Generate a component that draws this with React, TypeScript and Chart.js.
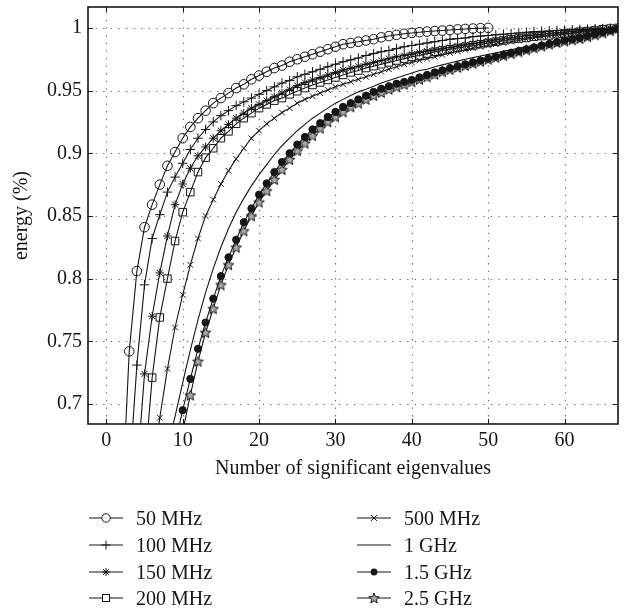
import React, { useEffect, useRef } from 'react';
import { Chart, registerables } from 'chart.js';

Chart.register(...registerables);

const FONT = '"Liberation Serif", "Times New Roman", serif';
const INK = '#161616';

// Axes
const xTicks = [0, 10, 20, 30, 40, 50, 60];
const yTicks = [0.7, 0.75, 0.8, 0.85, 0.9, 0.95, 1];
const yTickLabels = ['0.7', '0.75', '0.8', '0.85', '0.9', '0.95', '1'];
const xMin = -2.4;
const xMax = 67;
const yMin = 0.684;
const yMax = 1.0167;
const xTitle = 'Number of significant eigenvalues';
const yTitle = 'energy (%)';

// Series (first index = number of eigenvalues of the first value)
const seriesLabels = ['50 MHz', '100 MHz', '150 MHz', '200 MHz', '500 MHz', '1 GHz', '1.5 GHz', '2.5 GHz'];
const seriesStarts = [2, 3, 4, 5, 6, 8, 9, 10];

const e50MHz = [
  0.613, 0.742, 0.806, 0.841, 0.859, 0.875, 0.89, 0.901, 0.912, 0.921,
  0.928, 0.934, 0.94, 0.944, 0.948, 0.952, 0.955, 0.959, 0.962, 0.965,
  0.968, 0.97, 0.973, 0.975, 0.977, 0.979, 0.981, 0.983, 0.985, 0.987,
  0.988, 0.989, 0.99, 0.991, 0.9925, 0.9935, 0.9945, 0.9953, 0.996, 0.9966,
  0.9971, 0.9975, 0.9979, 0.9983, 0.9988, 0.9992, 0.9995, 0.9998, 1.0,
];
const e100MHz = [
  0.642, 0.731, 0.795, 0.832, 0.851, 0.869, 0.881, 0.892, 0.903, 0.912,
  0.919, 0.925, 0.93, 0.934, 0.938, 0.941, 0.944, 0.947, 0.95, 0.953,
  0.956, 0.958, 0.961, 0.963, 0.965, 0.967, 0.969, 0.971, 0.973, 0.9745,
  0.976, 0.978, 0.9795, 0.981, 0.982, 0.9835, 0.985, 0.986, 0.987, 0.988,
  0.989, 0.99, 0.991, 0.9915, 0.992, 0.993, 0.9935, 0.994, 0.9945, 0.995,
  0.9955, 0.996, 0.9965, 0.997, 0.9973, 0.9976, 0.9979, 0.9982, 0.9985, 0.9988,
  0.999, 0.9993, 0.9995, 0.9998, 1.0,
];
const e150MHz = [
  0.644, 0.724, 0.77, 0.8045, 0.834, 0.859, 0.8755, 0.888, 0.898, 0.905,
  0.912, 0.918, 0.923, 0.928, 0.932, 0.936, 0.939, 0.942, 0.945, 0.948,
  0.951, 0.954, 0.9565, 0.9585, 0.9605, 0.9625, 0.9645, 0.9665, 0.968, 0.9695,
  0.971, 0.9725, 0.974, 0.9755, 0.977, 0.978, 0.979, 0.9805, 0.9815, 0.9825,
  0.9835, 0.9845, 0.9855, 0.9865, 0.9875, 0.9885, 0.9895, 0.9905, 0.9915, 0.9922,
  0.993, 0.9937, 0.9943, 0.995, 0.9956, 0.9962, 0.9967, 0.9972, 0.9977, 0.9982,
  0.9987, 0.9992, 0.9996, 1.0,
];
const e200MHz = [
  0.647, 0.721, 0.769, 0.8, 0.83, 0.853, 0.869, 0.885, 0.8965, 0.904,
  0.912, 0.9175, 0.9235, 0.928, 0.932, 0.936, 0.939, 0.942, 0.944, 0.947,
  0.9495, 0.952, 0.9545, 0.9565, 0.9585, 0.9605, 0.9625, 0.9645, 0.966, 0.968,
  0.9695, 0.971, 0.9725, 0.974, 0.9755, 0.977, 0.978, 0.9795, 0.981, 0.982,
  0.983, 0.984, 0.985, 0.986, 0.987, 0.988, 0.989, 0.99, 0.991, 0.9915,
  0.992, 0.993, 0.9935, 0.994, 0.995, 0.9955, 0.996, 0.997, 0.9975, 0.998,
  0.999, 0.9995, 1.0,
];
const e500MHz = [
  0.64, 0.689, 0.728, 0.761, 0.787, 0.811, 0.832, 0.85, 0.863, 0.8755,
  0.886, 0.8955, 0.904, 0.912, 0.918, 0.9235, 0.928, 0.9325, 0.936, 0.94,
  0.943, 0.9455, 0.948, 0.9505, 0.953, 0.955, 0.957, 0.959, 0.961, 0.963,
  0.965, 0.967, 0.969, 0.971, 0.9725, 0.974, 0.9755, 0.977, 0.9785, 0.98,
  0.9813, 0.9825, 0.9838, 0.985, 0.986, 0.987, 0.988, 0.989, 0.99, 0.991,
  0.992, 0.9928, 0.9936, 0.9944, 0.995, 0.9958, 0.9965, 0.9972, 0.998, 0.9987,
  0.9994, 1.0,
];
const e1GHz = [
  0.665, 0.69, 0.717, 0.743, 0.767, 0.789, 0.808, 0.825, 0.84, 0.853,
  0.864, 0.874, 0.883, 0.891, 0.899, 0.906, 0.912, 0.918, 0.923, 0.928,
  0.932, 0.936, 0.94, 0.943, 0.946, 0.949, 0.951, 0.9535, 0.956, 0.958,
  0.96, 0.962, 0.964, 0.966, 0.967, 0.969, 0.9705, 0.972, 0.9735, 0.975,
  0.9763, 0.9776, 0.9789, 0.98, 0.9815, 0.9825, 0.984, 0.985, 0.986, 0.987,
  0.988, 0.989, 0.991, 0.992, 0.993, 0.994, 0.9955, 0.997, 0.9985, 1.0,
];
const e1p5GHz = [
  0.668, 0.695, 0.72, 0.744, 0.765, 0.784, 0.802, 0.817, 0.831, 0.845,
  0.856, 0.867, 0.876, 0.885, 0.893, 0.9, 0.907, 0.913, 0.919, 0.924,
  0.929, 0.933, 0.937, 0.94, 0.943, 0.946, 0.949, 0.9515, 0.9535, 0.9555,
  0.957, 0.9585, 0.9605, 0.9625, 0.9645, 0.9662, 0.968, 0.9695, 0.971, 0.9725,
  0.974, 0.9755, 0.977, 0.9785, 0.98, 0.9815, 0.983, 0.9845, 0.986, 0.9873,
  0.9886, 0.99, 0.991, 0.992, 0.9935, 0.995, 0.9965, 0.998, 0.9995,
];
const e2p5GHz = [
  0.678, 0.707, 0.734, 0.757, 0.776, 0.795, 0.811, 0.825, 0.838, 0.85,
  0.861, 0.87, 0.879, 0.887, 0.895, 0.902, 0.908, 0.914, 0.92, 0.925,
  0.929, 0.933, 0.937, 0.94, 0.943, 0.946, 0.9485, 0.951, 0.953, 0.955,
  0.957, 0.959, 0.961, 0.963, 0.965, 0.9668, 0.9685, 0.97, 0.9717, 0.9733,
  0.975, 0.9765, 0.978, 0.9795, 0.981, 0.9825, 0.984, 0.9855, 0.987, 0.9883,
  0.9895, 0.9905, 0.9915, 0.993, 0.9945, 0.996, 0.9978, 0.9995,
];
const seriesValues = [e50MHz, e100MHz, e150MHz, e200MHz, e500MHz, e1GHz, e1p5GHz, e2p5GHz];

// Marker styles
const markerKinds = ['circle', 'cross', 'star', 'rect', 'crossRot', 'none', 'dot', 'star5'];

function makeStarImage(size: number) {
  const c = document.createElement('canvas');
  c.width = size;
  c.height = size;
  const g = c.getContext('2d') as CanvasRenderingContext2D;
  const cx = size / 2, cy = size / 2 + 0.5;
  const R = size / 2 - 1, r = R * 0.45;
  g.beginPath();
  for (let i = 0; i < 10; i++) {
    const a = -Math.PI / 2 + (i * Math.PI) / 5;
    const rad = i % 2 === 0 ? R : r;
    g.lineTo(cx + rad * Math.cos(a), cy + rad * Math.sin(a));
  }
  g.closePath();
  g.fillStyle = '#a8a8a8';
  g.fill();
  g.lineWidth = 1;
  g.strokeStyle = INK;
  g.stroke();
  return c;
}

function pointOpts(kind: string, star: HTMLCanvasElement) {
  switch (kind) {
    case 'circle': return { pointStyle: 'circle', pointRadius: 4.8, pointBackgroundColor: 'rgba(0,0,0,0)' };
    case 'cross': return { pointStyle: 'cross', pointRadius: 4.8, pointBackgroundColor: INK };
    case 'star': return { pointStyle: 'star', pointRadius: 4.3, pointBackgroundColor: INK };
    case 'rect': return { pointStyle: 'rect', pointRadius: 5.3, pointBackgroundColor: 'rgba(0,0,0,0)' };
    case 'crossRot': return { pointStyle: 'crossRot', pointRadius: 4, pointBackgroundColor: INK };
    case 'dot': return { pointStyle: 'circle', pointRadius: 3.6, pointBackgroundColor: INK };
    case 'star5': return { pointStyle: star, pointRadius: 5, pointBackgroundColor: INK };
    default: return { pointStyle: 'circle', pointRadius: 0 };
  }
}

const framePlugin = {
  id: 'frame',
  beforeDatasetsDraw(chart: any) {
    const { ctx, chartArea, scales } = chart;
    const { left, right, top, bottom } = chartArea;
    ctx.save();
    ctx.strokeStyle = '#6a6a6a';
    ctx.lineWidth = 1.2;
    ctx.setLineDash([1.3, 6.3]);
    xTicks.forEach((v) => {
      const px = Math.round(scales.x.getPixelForValue(v)) + 0.5;
      ctx.beginPath();
      ctx.moveTo(px, bottom);
      ctx.lineTo(px, top);
      ctx.stroke();
    });
    yTicks.forEach((v) => {
      const py = Math.round(scales.y.getPixelForValue(v)) + 0.5;
      ctx.beginPath();
      ctx.moveTo(left, py);
      ctx.lineTo(right, py);
      ctx.stroke();
    });
    ctx.restore();
  },
  afterDatasetsDraw(chart: any) {
    const { ctx, chartArea, scales } = chart;
    const { left, right, top, bottom } = chartArea;
    ctx.save();
    ctx.strokeStyle = INK;
    ctx.lineWidth = 1;
    const tl = 5;
    xTicks.forEach((v) => {
      const px = Math.round(scales.x.getPixelForValue(v)) + 0.5;
      ctx.beginPath();
      ctx.moveTo(px, bottom);
      ctx.lineTo(px, bottom - tl);
      ctx.moveTo(px, top);
      ctx.lineTo(px, top + tl);
      ctx.stroke();
    });
    yTicks.forEach((v) => {
      const py = Math.round(scales.y.getPixelForValue(v)) + 0.5;
      ctx.beginPath();
      ctx.moveTo(left, py);
      ctx.lineTo(left + tl, py);
      ctx.moveTo(right, py);
      ctx.lineTo(right - tl, py);
      ctx.stroke();
    });
    ctx.lineWidth = 1.6;
    ctx.strokeRect(left, top, right - left, bottom - top);
    ctx.restore();
  },
};

function LegendIcon({ kind }: { kind: string }) {
  const cx = 17, cy = 7;
  let m: any = null;
  const s = { stroke: INK, strokeWidth: 1, fill: 'none' };
  if (kind === 'circle') m = <circle cx={cx} cy={cy} r={4.2} fill="#fff" stroke={INK} strokeWidth={1} />;
  else if (kind === 'cross') m = <path d={`M${cx - 4.5} ${cy}H${cx + 4.5}M${cx} ${cy - 4.5}V${cy + 4.5}`} {...s} />;
  else if (kind === 'star')
    m = <path d={`M${cx - 4} ${cy}H${cx + 4}M${cx} ${cy - 4}V${cy + 4}M${cx - 2.9} ${cy - 2.9}L${cx + 2.9} ${cy + 2.9}M${cx - 2.9} ${cy + 2.9}L${cx + 2.9} ${cy - 2.9}`} {...s} />;
  else if (kind === 'rect') m = <rect x={cx - 3.5} y={cy - 3.5} width={7} height={7} fill="#fff" stroke={INK} strokeWidth={1} />;
  else if (kind === 'crossRot') m = <path d={`M${cx - 3} ${cy - 3}L${cx + 3} ${cy + 3}M${cx - 3} ${cy + 3}L${cx + 3} ${cy - 3}`} {...s} />;
  else if (kind === 'dot') m = <circle cx={cx} cy={cy} r={3.4} fill={INK} />;
  else if (kind === 'star5') {
    const pts: string[] = [];
    for (let i = 0; i < 10; i++) {
      const a = -Math.PI / 2 + (i * Math.PI) / 5;
      const rad = i % 2 === 0 ? 5.5 : 2.4;
      pts.push(`${(cx + rad * Math.cos(a)).toFixed(2)},${(cy + 0.5 + rad * Math.sin(a)).toFixed(2)}`);
    }
    m = <polygon points={pts.join(' ')} fill="#a8a8a8" stroke={INK} strokeWidth={1} />;
  }
  return (
    <svg width={36} height={14} style={{ display: 'block' }}>
      <line x1={0} y1={cy} x2={34} y2={cy} stroke={INK} strokeWidth={1.1} />
      {m}
    </svg>
  );
}

export default function App() {
  const ref = useRef<HTMLCanvasElement | null>(null);

  useEffect(() => {
    if (!ref.current) return;
    const star = makeStarImage(13);
    const datasets = seriesLabels.map((label, i) => ({
      label,
      data: seriesValues[i].map((v, j) => ({ x: seriesStarts[i] + j, y: v })),
      borderColor: INK,
      borderWidth: 1.1,
      pointBorderColor: INK,
      pointBorderWidth: 1,
      tension: 0,
      fill: false,
      ...pointOpts(markerKinds[i], star),
    }));
    const chart = new Chart(ref.current, {
      type: 'line',
      data: { datasets },
      options: {
        animation: false,
        responsive: false,
        devicePixelRatio: 1,
        events: [],
        layout: { padding: { left: 0, right: 14, top: 7, bottom: 0 } },
        plugins: { legend: { display: false }, tooltip: { enabled: false } },
        scales: {
          x: {
            type: 'linear',
            min: xMin,
            max: xMax,
            grid: { display: false, drawTicks: false, tickLength: 0 },
            border: { display: false },
            afterBuildTicks: (s: any) => { s.ticks = xTicks.map((v) => ({ value: v })); },
            afterFit: (s: any) => { s.height = 186; s.paddingLeft = 0; s.paddingRight = 0; },
            ticks: {
              padding: 5,
              maxRotation: 0,
              autoSkip: false,
              color: INK,
              font: { family: FONT, size: 20 },
              callback: (v: any) => String(v),
            },
            title: {
              display: true,
              text: xTitle,
              color: INK,
              font: { family: FONT, size: 20 },
              padding: { top: 0, bottom: 129 },
            },
          },
          y: {
            type: 'linear',
            min: yMin,
            max: yMax,
            grid: { display: false, drawTicks: false, tickLength: 0 },
            border: { display: false },
            afterBuildTicks: (s: any) => { s.ticks = yTicks.map((v) => ({ value: v })); },
            afterFit: (s: any) => { s.width = 88; s.paddingTop = 0; s.paddingBottom = 0; },
            ticks: {
              padding: 6,
              autoSkip: false,
              color: INK,
              font: { family: FONT, size: 20 },
              callback: (v: any) => {
                const idx = yTicks.findIndex((t) => Math.abs(t - Number(v)) < 1e-9);
                return idx >= 0 ? yTickLabels[idx] : '';
              },
            },
            title: {
              display: true,
              text: yTitle,
              color: INK,
              font: { family: FONT, size: 20 },
              padding: { top: 10, bottom: 0 },
            },
          },
        },
      } as any,
      plugins: [framePlugin],
    });
    return () => chart.destroy();
  }, []);

  const rowY = [518, 545, 571.5, 598];
  const cols = [
    { iconX: 89, textX: 136 },
    { iconX: 357, textX: 404 },
  ];

  return (
    <div style={{ position: 'absolute', left: 0, top: 0, width: 632, height: 610, background: '#fff' }}>
      <canvas ref={ref} width={632} height={610} style={{ display: 'block', width: 632, height: 610 }} />
      {seriesLabels.map((label, i) => {
        const col = cols[Math.floor(i / 4)];
        const cy = rowY[i % 4];
        return (
          <React.Fragment key={label}>
            <div style={{ position: 'absolute', left: col.iconX, top: cy - 7 }}>
              <LegendIcon kind={markerKinds[i]} />
            </div>
            <div
              style={{
                position: 'absolute',
                left: col.textX,
                top: cy - 12,
                font: `20px ${FONT}`,
                lineHeight: '24px',
                color: INK,
                whiteSpace: 'nowrap',
              }}
            >
              {label}
            </div>
          </React.Fragment>
        );
      })}
    </div>
  );
}
